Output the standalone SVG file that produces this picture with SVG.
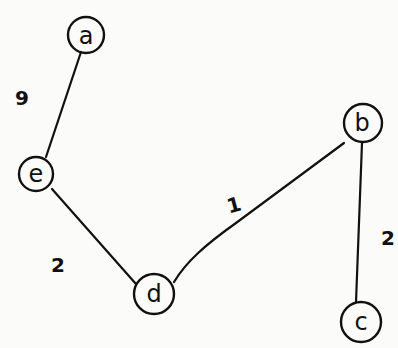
<svg xmlns="http://www.w3.org/2000/svg" width="398" height="348" viewBox="0 0 398 348">
<style>
.n{fill:none;stroke:#111;stroke-width:2.4}
.t{font-family:"DejaVu Sans",sans-serif;font-size:24px;fill:#111;text-anchor:middle}
.w{font-family:"DejaVu Sans",sans-serif;font-size:20px;font-weight:bold;fill:#111;text-anchor:middle}
.e{fill:none;stroke:#111;stroke-width:2.2;stroke-linecap:round}
</style>
<rect width="398" height="348" fill="#fbfbfa"/>
<g id="edges">
<path class="e" d="M81,52 L46,157"/>
<path class="e" d="M52,189 L136,284"/>
<path class="e" d="M174,282 C186,262 205,245 236,223 L344,143"/>
<path class="e" d="M362,143 L356,302"/>
</g>
<g id="labels">
<text class="w" x="22" y="105">9</text>
<text class="w" x="58" y="272">2</text>
<text class="w" x="388" y="245">2</text>
<text class="w" x="234" y="212" transform="rotate(-15 234 205)">1</text>
</g>
<g id="node-a"><circle class="n" cx="86" cy="35" r="18"/><text class="t" x="86" y="44">a</text></g>
<g id="node-e"><circle class="n" cx="36" cy="174" r="17"/><text class="t" x="36" y="182">e</text></g>
<g id="node-d"><circle class="n" cx="154" cy="294" r="20"/><text class="t" x="154" y="302">d</text></g>
<g id="node-b"><circle class="n" cx="363" cy="123" r="19"/><text class="t" x="362" y="131">b</text></g>
<g id="node-c"><circle class="n" cx="361" cy="322" r="20"/><text class="t" x="361" y="330">c</text></g>
</svg>
